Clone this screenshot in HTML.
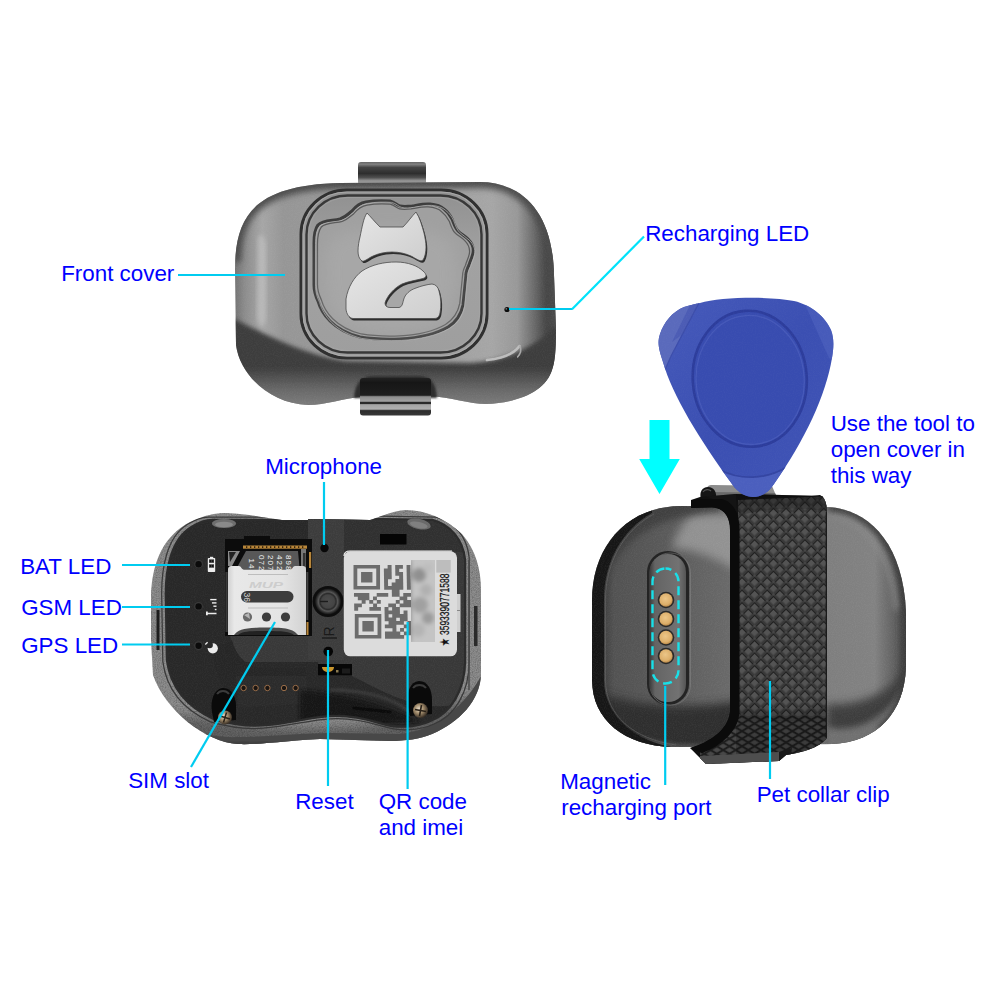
<!DOCTYPE html>
<html><head><meta charset="utf-8"><title>Pet tracker parts</title>
<style>
html,body{margin:0;padding:0;background:#fff;}
body{width:1000px;height:1000px;overflow:hidden;font-family:"Liberation Sans",sans-serif;}
svg{display:block;}
text{font-family:"Liberation Sans",sans-serif;}
.lb{font-size:22px;fill:#0000ff;}
.ln{stroke:#00ccf0;stroke-width:2.2;fill:none;}
</style></head><body>
<svg width="1000" height="1000" viewBox="0 0 1000 1000">
<rect width="1000" height="1000" fill="#fff"/>
<defs>
<filter id="b05" x="-10%" y="-10%" width="120%" height="120%"><feGaussianBlur stdDeviation="0.5"/></filter>
<filter id="b1" x="-10%" y="-10%" width="120%" height="120%"><feGaussianBlur stdDeviation="1"/></filter>
<filter id="b2" x="-20%" y="-20%" width="140%" height="140%"><feGaussianBlur stdDeviation="2"/></filter>
<filter id="b3" x="-20%" y="-20%" width="140%" height="140%"><feGaussianBlur stdDeviation="3"/></filter>
<filter id="b5" x="-30%" y="-30%" width="160%" height="160%"><feGaussianBlur stdDeviation="5"/></filter>
<filter id="b8" x="-40%" y="-40%" width="180%" height="180%"><feGaussianBlur stdDeviation="8"/></filter>
<filter id="b12" x="-50%" y="-50%" width="200%" height="200%"><feGaussianBlur stdDeviation="12"/></filter>
<filter id="grain" x="0" y="0" width="100%" height="100%">
  <feTurbulence type="fractalNoise" baseFrequency="0.9" numOctaves="2" seed="3" result="n"/>
  <feColorMatrix in="n" type="matrix" values="0 0 0 0 1  0 0 0 0 1  0 0 0 0 1  0.9 0 0 0 -0.32"/>
</filter>
<filter id="grainD" x="0" y="0" width="100%" height="100%">
  <feTurbulence type="fractalNoise" baseFrequency="0.8" numOctaves="2" seed="11" result="n"/>
  <feColorMatrix in="n" type="matrix" values="0 0 0 0 0  0 0 0 0 0  0 0 0 0 0  1.0 0 0 0 -0.38"/>
</filter>
</defs>
<g id="dev1">
<defs>
<clipPath id="c1"><path d="M340,183 L480,182 C520,182 553,210 554,275 L556,330 C556,350 555,362 552,370 C546,390 520,403 486,404 C470,404 450,397 430,396 L360,397 C345,398 325,405 308,405 C270,404 240,375 236,345 L235,270 C235,215 255,185 340,183 Z"/></clipPath>
<linearGradient id="g1face" x1="0" y1="0" x2="1" y2="0">
 <stop offset="0" stop-color="#747474"/><stop offset="0.03" stop-color="#8c8c8c"/><stop offset="0.085" stop-color="#a6a6a6"/><stop offset="0.15" stop-color="#969696"/>
 <stop offset="0.5" stop-color="#9a9a9a"/><stop offset="0.8" stop-color="#a6a6a6"/><stop offset="0.88" stop-color="#989898"/><stop offset="0.93" stop-color="#6c6c6c"/><stop offset="0.97" stop-color="#464646"/><stop offset="1" stop-color="#3c3c3c"/>
</linearGradient>
<linearGradient id="g1low" gradientUnits="userSpaceOnUse" x1="0" y1="330" x2="0" y2="406">
 <stop offset="0" stop-color="#3c3c3c"/><stop offset="0.5" stop-color="#3e3e3e"/><stop offset="0.78" stop-color="#686868"/><stop offset="1" stop-color="#7c7c7c"/>
</linearGradient>
<linearGradient id="g1clipT" x1="0" y1="0" x2="0" y2="1">
 <stop offset="0" stop-color="#666"/><stop offset="0.1" stop-color="#808080"/><stop offset="0.24" stop-color="#444"/><stop offset="0.5" stop-color="#2e2e2e"/><stop offset="0.68" stop-color="#505050"/><stop offset="0.8" stop-color="#8e8e8e"/><stop offset="0.9" stop-color="#9a9a9a"/><stop offset="1" stop-color="#4a4a4a"/>
</linearGradient>
<linearGradient id="g1clipB" x1="0" y1="0" x2="0" y2="1">
 <stop offset="0" stop-color="#222"/><stop offset="0.12" stop-color="#161616"/><stop offset="0.46" stop-color="#1e1e1e"/><stop offset="0.5" stop-color="#8e8e8e"/><stop offset="0.62" stop-color="#a0a0a0"/><stop offset="0.65" stop-color="#2a2a2a"/><stop offset="0.685" stop-color="#2a2a2a"/><stop offset="0.71" stop-color="#a4a4a4"/><stop offset="0.83" stop-color="#b0b0b0"/><stop offset="0.87" stop-color="#2c2c2c"/><stop offset="1" stop-color="#383838"/>
</linearGradient>
<linearGradient id="g1panel" x1="0" y1="0" x2="0" y2="1">
 <stop offset="0" stop-color="#909090"/><stop offset="0.4" stop-color="#a2a2a2"/><stop offset="1" stop-color="#9e9e9e"/>
</linearGradient>
<linearGradient id="g1logo" x1="0" y1="0" x2="1" y2="1">
 <stop offset="0" stop-color="#e6e6e6"/><stop offset="0.5" stop-color="#dadada"/><stop offset="1" stop-color="#cecece"/>
</linearGradient>
</defs>
<rect x="358" y="162" width="68" height="23" rx="3" fill="url(#g1clipT)"/>
<path d="M340,183 L480,182 C520,182 553,210 554,275 L556,330 C556,350 555,362 552,370 C546,390 520,403 486,404 C470,404 450,397 430,396 L360,397 C345,398 325,405 308,405 C270,404 240,375 236,345 L235,270 C235,215 255,185 340,183 Z" fill="url(#g1face)"/>
<g clip-path="url(#c1)">
 <!-- top darker rim -->
 <path d="M235,262 C235,215 255,185 340,183 L480,182 C520,182 553,210 554,275 L556,330" fill="none" stroke="#4c4c4c" stroke-width="12" filter="url(#b3)"/>
 <!-- lower front side (dark band) -->
 <path d="M232,318 C262,332 300,354 345,361 L470,363 C500,362 530,350 558,326 L560,420 L230,420 Z" fill="url(#g1low)" filter="url(#b2)"/>
 <!-- right side darkening -->
 
 <!-- left rim + highlight -->
 <path d="M258,238 C262,230 266,238 266,250 L266,318 C264,330 258,328 257,316 Z" fill="#b8b8b8" filter="url(#b2)"/>
 <path d="M246,240 L246,335" stroke="#666" stroke-width="6" filter="url(#b2)" fill="none"/>
 <!-- bottom right gloss -->
 <path d="M487,360 C502,358.500 514,353.500 519.500,346" stroke="#bdbdbd" stroke-width="2.600" stroke-linecap="round" fill="none" filter="url(#b05)"/><path d="M520,346 C521.500,350 520.500,354 517.500,357" stroke="#a8a8a8" stroke-width="1.600" stroke-linecap="round" fill="none" filter="url(#b05)"/>
 <rect x="230" y="160" width="330" height="260" filter="url(#grain)" opacity="0.10"/>
</g>
<path d="M354,398 C355,382 362,376 374,376 L418,376 C430,376 436,382 437,398 Z" fill="#2e2e2e" filter="url(#b1)"/>
<rect x="360" y="378" width="71" height="37.500" rx="3" fill="url(#g1clipB)"/>
<!-- inner raised panel -->
<rect x="301" y="190" width="186" height="168" rx="46" ry="44" fill="url(#g1panel)" stroke="#303030" stroke-width="3"/>
<rect x="303" y="192" width="182" height="164" rx="44" ry="42" fill="none" stroke="#b0b0b0" stroke-width="1.100" opacity="0.75"/>
<rect x="306.500" y="195.500" width="175" height="157" rx="41" ry="39" fill="none" stroke="#383838" stroke-width="2.400"/>
<rect x="308.500" y="197.500" width="171" height="153" rx="39" ry="37" fill="none" stroke="#a8a8a8" stroke-width="0.900" opacity="0.6"/>
<!-- paw outline -->
<path d="M314,285 L314,243 C314,234 315,229 318,225 C323,220 333,221 340,219 C346,217 348,214 352,211 C356,206 360,203 366,202 C374,200.500 383,200.500 390,201 C395,202 397,205.500 400,206 C404,207 408,206.500 412,206 C418,205 424,203.500 430,204 C436,204.500 441,206 444,209 C448,212 450,215 452,219 C454,224 455,228 458,231 C461,234 465,236 468,239 C472,243 474,248 473,253 C472,258 470,261 469,265 C467,269 466,272 466,275 L463,305 C461,315 456,322 448,327 C436,334 418,338 400,339 C386,339.500 372,339 360,337 C348,334 338,329 330,321 C324,315 320,308 318,301 C315,295 314,290 314,285 Z" fill="#a0a0a0" stroke="#3e3e3e" stroke-width="3"/>
<path d="M314,285 L314,243 C314,234 315,229 318,225 C323,220 333,221 340,219 C346,217 348,214 352,211 C356,206 360,203 366,202 C374,200.500 383,200.500 390,201 C395,202 397,205.500 400,206 C404,207 408,206.500 412,206 C418,205 424,203.500 430,204 C436,204.500 441,206 444,209 C448,212 450,215 452,219 C454,224 455,228 458,231 C461,234 465,236 468,239 C472,243 474,248 473,253 C472,258 470,261 469,265 C467,269 466,272 466,275 L463,305 C461,315 456,322 448,327 C436,334 418,338 400,339 C386,339.500 372,339 360,337 C348,334 338,329 330,321 C324,315 320,308 318,301 C315,295 314,290 314,285 Z" fill="none" stroke="#b8b8b8" stroke-width="1" opacity="0.7" transform="translate(1.6,1.4)"/>
<path d="M314,285 L314,243 C314,234 315,229 318,225 C323,220 333,221 340,219 C346,217 348,214 352,211 C356,206 360,203 366,202 C374,200.500 383,200.500 390,201 C395,202 397,205.500 400,206 C404,207 408,206.500 412,206 C418,205 424,203.500 430,204 C436,204.500 441,206 444,209 C448,212 450,215 452,219 C454,224 455,228 458,231 C461,234 465,236 468,239 C472,243 474,248 473,253 C472,258 470,261 469,265 C467,269 466,272 466,275 L463,305 C461,315 456,322 448,327 C436,334 418,338 400,339 C386,339.500 372,339 360,337 C348,334 338,329 330,321 C324,315 320,308 318,301 C315,295 314,290 314,285 Z" fill="none" stroke="#5a5a5a" stroke-width="1.300" transform="translate(391 270) scale(0.955) translate(-391 -270)"/>
<path d="M330,240 C350,225 420,222 450,240 C465,270 455,310 440,326 C400,336 360,334 335,318 C322,295 322,260 330,240 Z" fill="#aaaaaa" filter="url(#b8)" opacity="0.7"/>
<!-- cat logo -->
<g>
 <path d="M367,213 C370,216 375,222 380,227 L403,227 C408,222 412,216 416,212 C420,218 422,226 424,233 C425,238 426,242 426,247 C426,252 425,257 423,260 C421,262 418,260 412,256.500 C406,253.500 399,252 392,252 C385,252 378,253.500 372,256.500 C367,259 364,262 362,261 C359,259 358,255 358,251 C358,246 359,241 360,237 C361,232 362,227 363,223 C364,219 365,216 367,213 Z" fill="#2e2e2e" transform="translate(1.300,1.900)"/>
 <path d="M367,213 C370,216 375,222 380,227 L403,227 C408,222 412,216 416,212 C420,218 422,226 424,233 C425,238 426,242 426,247 C426,252 425,257 423,260 C421,262 418,260 412,256.500 C406,253.500 399,252 392,252 C385,252 378,253.500 372,256.500 C367,259 364,262 362,261 C359,259 358,255 358,251 C358,246 359,241 360,237 C361,232 362,227 363,223 C364,219 365,216 367,213 Z" fill="url(#g1logo)"/>
 <path d="M346,299 C348,287 354,277 362,271 C372,264.500 384,262 396,262 C408,262 418,266 423,271 C427,274.500 427,277 423,278.500 C415,280.500 408,281.500 402,284 C394,288 387,296 385,303 C385,306 387,307.500 390,307.500 L399,307.500 C402,307 402.500,304 403.500,300 C405,294 410,290 416,288 C421,286 427,284.500 432,284 C436,284.500 438,287 439,291 C441,298 441.500,306 440,313 C439,317 437.500,318.500 434,318.500 L353,318.500 C349,318 346.500,314 346,309 Z" fill="#2e2e2e" transform="translate(1.300,1.900)"/>
 <path d="M346,299 C348,287 354,277 362,271 C372,264.500 384,262 396,262 C408,262 418,266 423,271 C427,274.500 427,277 423,278.500 C415,280.500 408,281.500 402,284 C394,288 387,296 385,303 C385,306 387,307.500 390,307.500 L399,307.500 C402,307 402.500,304 403.500,300 C405,294 410,290 416,288 C421,286 427,284.500 432,284 C436,284.500 438,287 439,291 C441,298 441.500,306 440,313 C439,317 437.500,318.500 434,318.500 L353,318.500 C349,318 346.500,314 346,309 Z" fill="url(#g1logo)"/>
 <path d="M367,213 C370,216 375,222 380,227 L403,227 C408,222 412,216 416,212 C420,218 422,226 424,233 C425,238 426,242 426,247 C426,252 425,257 423,260 C421,262 418,260 412,256.500 C406,253.500 399,252 392,252 C385,252 378,253.500 372,256.500 C367,259 364,262 362,261 C359,259 358,255 358,251 C358,246 359,241 360,237 C361,232 362,227 363,223 C364,219 365,216 367,213 Z" fill="none" stroke="#4a4a4a" stroke-width="0.800"/>
 <path d="M346,299 C348,287 354,277 362,271 C372,264.500 384,262 396,262 C408,262 418,266 423,271 C427,274.500 427,277 423,278.500 C415,280.500 408,281.500 402,284 C394,288 387,296 385,303 C385,306 387,307.500 390,307.500 L399,307.500 C402,307 402.500,304 403.500,300 C405,294 410,290 416,288 C421,286 427,284.500 432,284 C436,284.500 438,287 439,291 C441,298 441.500,306 440,313 C439,317 437.500,318.500 434,318.500 L353,318.500 C349,318 346.500,314 346,309 Z" fill="none" stroke="#4a4a4a" stroke-width="0.800"/>
</g>
<circle cx="507" cy="309.500" r="2.600" fill="#0c0c0c"/>
<circle cx="506.300" cy="308.800" r="0.9" fill="#777"/>
</g>
<g id="dev2">
<defs>
<clipPath id="c2o"><path d="M226,513 C250,514 265,518 282,520 L370,520 C380,517 392,511 406,510 C425,510 445,518 462,534 C476,550 481,570 481,590 L481,675 C480,700 460,722 432,734 C420,739 405,741 390,741 L320,739 C290,740 260,745 238,744 C205,742 165,710 153,675 L151,640 L151,595 C152,560 165,535 190,522 C205,515 215,513 226,513 Z"/></clipPath>
<clipPath id="c2i"><path d="M212,521 L308,521 L308,519 L432,521 C450,526 462,540 464,560 L464,660 C464,690 450,712 430,720 C415,727 395,727 380,722 C360,716 345,714 330,715 C310,716 290,722 265,724 C245,726 228,722 214,718 C192,708 172,690 168,660 L167,600 C166,570 172,540 192,528 C200,523 206,521 212,521 Z"/></clipPath>
<linearGradient id="g2sim" x1="0" y1="0" x2="1" y2="0">
 <stop offset="0" stop-color="#d0d0d0"/><stop offset="0.08" stop-color="#e8e8e8"/><stop offset="0.7" stop-color="#e4e4e4"/><stop offset="1" stop-color="#d2d2d2"/>
</linearGradient>
<radialGradient id="g2btn" cx="0.5" cy="0.5" r="0.5">
 <stop offset="0" stop-color="#4c4c4c"/><stop offset="0.5" stop-color="#444"/><stop offset="0.62" stop-color="#2a2a2a"/><stop offset="0.74" stop-color="#565656"/><stop offset="0.9" stop-color="#2a2a2a"/><stop offset="1" stop-color="#141414"/>
</radialGradient>
<radialGradient id="g2screw" cx="0.4" cy="0.4" r="0.6">
 <stop offset="0" stop-color="#e8dcc8"/><stop offset="0.5" stop-color="#a08a6a"/><stop offset="1" stop-color="#3a3026"/>
</radialGradient>
</defs>
<path d="M226,513 C250,514 265,518 282,520 L370,520 C380,517 392,511 406,510 C425,510 445,518 462,534 C476,550 481,570 481,590 L481,675 C480,700 460,722 432,734 C420,739 405,741 390,741 L320,739 C290,740 260,745 238,744 C205,742 165,710 153,675 L151,640 L151,595 C152,560 165,535 190,522 C205,515 215,513 226,513 Z" fill="#888"/>
<g clip-path="url(#c2o)">
<rect x="145" y="505" width="345" height="245" filter="url(#grainD)" opacity="0.45"/>
<rect x="145" y="505" width="345" height="245" filter="url(#grain)" opacity="0.25"/>
<path d="M145,712 C200,716 260,730 316,728 C380,728 430,716 490,690 L490,750 L145,750 Z" fill="#000" opacity="0.3" filter="url(#b5)"/>
<path d="M150,690 C175,735 215,738 240,737 C270,737 300,733 330,733 L400,734 C440,730 470,700 484,670 L490,760 L140,760 Z" fill="#484848"/>
<path d="M200,744 L420,742" stroke="#3c3c3c" stroke-width="3" filter="url(#b1)"/>
<path d="M212,521 L308,521 L308,519 L432,521 C450,526 462,540 464,560 L464,660 C464,690 450,712 430,720 C415,727 395,727 380,722 C360,716 345,714 330,715 C310,716 290,722 265,724 C245,726 228,722 214,718 C192,708 172,690 168,660 L167,600 C166,570 172,540 192,528 C200,523 206,521 212,521 Z" fill="none" stroke="#2c2c2c" stroke-width="4.500"/>
<path d="M212,521 L308,521 L308,519 L432,521 C450,526 462,540 464,560 L464,660 C464,690 450,712 430,720 C415,727 395,727 380,722 C360,716 345,714 330,715 C310,716 290,722 265,724 C245,726 228,722 214,718 C192,708 172,690 168,660 L167,600 C166,570 172,540 192,528 C200,523 206,521 212,521 Z" fill="none" stroke="#3a3a3a" stroke-width="1.2" transform="translate(316 620) scale(1.035,1.04) translate(-316 -620)"/>
</g>
<path d="M212,521 L308,521 L308,519 L432,521 C450,526 462,540 464,560 L464,660 C464,690 450,712 430,720 C415,727 395,727 380,722 C360,716 345,714 330,715 C310,716 290,722 265,724 C245,726 228,722 214,718 C192,708 172,690 168,660 L167,600 C166,570 172,540 192,528 C200,523 206,521 212,521 Z" fill="#282828"/>
<g clip-path="url(#c2i)">
<path d="M308,519 L470,519 L470,700 C440,715 400,700 380,690 L352,676 L318,676 L318,662 L244,662 C235,655 232,645 230,636 L308,636 Z" fill="#383838"/>
<path d="M308,519 L344,519 L344,660 L308,660 Z" fill="#3c3c3c"/>
<path d="M344,519 L470,519 L470,552 L344,552 Z" fill="#303030"/>
<path d="M232,640 C236,655 244,664 258,668 L306,668 L306,700 L236,700 C222,690 214,670 214,650 Z" fill="#262626"/>
<path d="M236,676 L306,676 L308,700 L300,704 L238,708 Z" fill="#2b2b2b"/>
<path d="M300,690 C340,694 380,700 420,722 L300,726 Z" fill="#141414" filter="url(#b2)"/>
<path d="M330,690 C370,690 395,700 410,712" stroke="#3a3a3a" stroke-width="3" fill="none" filter="url(#b1)"/>
<path d="M354,708 L390,712" stroke="#0a0a0a" stroke-width="3" stroke-linecap="round" fill="none"/>
<rect x="160" y="515" width="310" height="215" filter="url(#grain)" opacity="0.10"/>
</g>
<ellipse cx="224" cy="523.500" rx="12" ry="4.500" fill="#6e6e6e"/><ellipse cx="224" cy="524.500" rx="9" ry="2.800" fill="#8a8a8a"/>
<ellipse cx="419" cy="524" rx="12" ry="5" fill="#6a6a6a" transform="rotate(12 419 524)"/><ellipse cx="419" cy="525" rx="9" ry="3" fill="#808080" transform="rotate(12 419 524)"/>
<rect x="380" y="534" width="26.500" height="10.500" fill="#050505"/>
<path d="M225,539 L244,539 L244,536 L270,536 L270,539 L312,539 L312,636 L225,636 Z" fill="#0c0c0c"/>
<rect x="243" y="545.500" width="64" height="3.200" fill="#b8863a"/>
<rect x="246" y="546.300" width="1.300" height="1.600" fill="#2a1a08"/>
<rect x="250" y="546.300" width="1.300" height="1.600" fill="#2a1a08"/>
<rect x="254" y="546.300" width="1.300" height="1.600" fill="#2a1a08"/>
<rect x="258" y="546.300" width="1.300" height="1.600" fill="#2a1a08"/>
<rect x="262" y="546.300" width="1.300" height="1.600" fill="#2a1a08"/>
<rect x="266" y="546.300" width="1.300" height="1.600" fill="#2a1a08"/>
<rect x="270" y="546.300" width="1.300" height="1.600" fill="#2a1a08"/>
<rect x="274" y="546.300" width="1.300" height="1.600" fill="#2a1a08"/>
<rect x="278" y="546.300" width="1.300" height="1.600" fill="#2a1a08"/>
<rect x="282" y="546.300" width="1.300" height="1.600" fill="#2a1a08"/>
<rect x="286" y="546.300" width="1.300" height="1.600" fill="#2a1a08"/>
<rect x="290" y="546.300" width="1.300" height="1.600" fill="#2a1a08"/>
<rect x="294" y="546.300" width="1.300" height="1.600" fill="#2a1a08"/>
<rect x="298" y="546.300" width="1.300" height="1.600" fill="#2a1a08"/>
<rect x="302" y="546.300" width="1.300" height="1.600" fill="#2a1a08"/>
<rect x="309" y="552" width="2.200" height="16" fill="#b8863a"/><rect x="306.500" y="622" width="2" height="13" fill="#b8863a"/>
<path d="M234,573 L246,551 L298,551 L300,573 Z" fill="#585858"/>
<path d="M228,551 L240,551 L232,566 L228,566 Z" fill="#8a8a8a"/><path d="M229,552 L236,552 L230,562 Z" fill="#222"/>
<rect x="301" y="549" width="5" height="22" fill="#777"/><rect x="303" y="553" width="2.500" height="14" fill="#333"/>
<g font-size="8" fill="#f4f4f4" font-family="Liberation Sans,sans-serif" letter-spacing="1">
<text transform="translate(285.500,555) rotate(90)">898</text><text transform="translate(276.500,555) rotate(90)">422</text><text transform="translate(267.500,555) rotate(90)">207</text><text transform="translate(259,555) rotate(90)">072</text><text transform="translate(248.500,558.500) rotate(90)">14</text></g>
<path d="M228,570 C228,567 229,566 232,566 L239,566 C241,566 241.500,569.500 244,569.700 L290,569.700 C292.500,569.500 293,566 295,566 L303,566 C305,566 306,567 306,570 L306,635 L228,635 Z" fill="url(#g2sim)"/>
<path d="M248,574.500 L288,574.500" stroke="#bdbdbd" stroke-width="1"/><path d="M248,608 L288,608" stroke="#bdbdbd" stroke-width="1"/>
<text x="249" y="587.500" font-size="9" font-style="italic" font-weight="bold" fill="#cdcdcd" font-family="Liberation Sans,sans-serif" textLength="34" lengthAdjust="spacingAndGlyphs">MUP</text>
<rect x="241" y="591" width="52.500" height="11.500" rx="5.700" fill="#3c3c3c"/>
<text transform="translate(244,592.500) rotate(90)" font-size="8.500" fill="#d8d8d8" font-family="Liberation Sans,sans-serif">36</text>
<circle cx="247.500" cy="617" r="4.600" fill="#6a6a6a"/><path d="M244,615 L249,613 L250,619 Z" fill="#b5b5b5"/><circle cx="266.500" cy="617" r="4.600" fill="#3e3e3e"/><circle cx="285.500" cy="617" r="4.600" fill="#3e3e3e"/>
<path d="M234,635 C238,629 246,627.500 266,627.500 C286,627.500 293,629 298,635 Z" fill="#4a4a4a"/><path d="M238,635 C242,631.500 250,631 266,631 C282,631 290,631.500 294,635 Z" fill="#222"/>
<rect x="225.500" y="572" width="2.200" height="60" fill="#3a3a3a"/><rect x="306.300" y="572" width="2" height="48" fill="#444"/>
<circle cx="198.500" cy="564" r="4.300" fill="#3a3a3a"/><circle cx="198.600" cy="564.2" r="3.200" fill="#0b0b0b"/>
<circle cx="198.500" cy="606.2" r="4.300" fill="#3a3a3a"/><circle cx="198.600" cy="606.4000000000001" r="3.200" fill="#0b0b0b"/>
<circle cx="198.500" cy="645.6" r="4.300" fill="#3a3a3a"/><circle cx="198.600" cy="645.8000000000001" r="3.200" fill="#0b0b0b"/>
<g fill="#ececec">
<rect x="210" y="556.800" width="3.200" height="1.500"/><rect x="207.800" y="558" width="7.400" height="14" rx="0.700"/><rect x="209" y="559.300" width="5" height="3.600" fill="#4a4a4a"/><rect x="209" y="564.200" width="5" height="3.600" fill="#4a4a4a"/><rect x="209.700" y="560.100" width="1.500" height="2" fill="#111"/><rect x="211.900" y="560.100" width="1.500" height="2" fill="#111"/><rect x="209.700" y="565" width="1.500" height="2" fill="#111"/><rect x="211.900" y="565" width="1.500" height="2" fill="#111"/>
<path d="M206,611.600 L207.800,611.600 L207.800,612.700 L216.500,612.700 L216.500,614.200 L207.800,614.200 L207.800,615.300 L206,615.300 Z"/>
<rect x="210.200" y="598.900" width="6.300" height="1.400"/><rect x="212" y="602.200" width="4.500" height="1.400"/><rect x="213.400" y="605.500" width="3.100" height="1.400"/><rect x="214.800" y="608.800" width="1.700" height="1.400"/>
<circle cx="212.800" cy="648.300" r="5.100"/><circle cx="209.600" cy="645" r="3.300" fill="#282828"/><path d="M205.300,644.500 L207.600,642.300" stroke="#ececec" stroke-width="1.300" fill="none"/>
</g>
<circle cx="324.500" cy="548" r="4.200" fill="#080808"/>
<circle cx="328" cy="601.500" r="15.500" fill="#0d0d0d"/><circle cx="328" cy="601.500" r="13" fill="url(#g2btn)"/>
<path d="M328,601.500 L320,601.500" stroke="#1c1c1c" stroke-width="1.400"/>
<text transform="translate(334,636.500) rotate(-90)" font-size="14" fill="#1a1a1a" font-family="Liberation Sans,sans-serif">R</text>
<path d="M322,638 L337,638" stroke="#151515" stroke-width="1.200"/>
<circle cx="328.200" cy="651.500" r="4.800" fill="#050505"/>
<rect x="318" y="664" width="34" height="11.500" fill="#070707"/><path d="M322,667 L334,667 C334,671 330,672 328,672 C325,672 322,670 322,667 Z" fill="#c9962e"/><rect x="336" y="670" width="2.500" height="2.500" fill="#8a7a50"/><rect x="342" y="668.500" width="8" height="5" fill="#1c1c1c"/>
<circle cx="243.6" cy="688" r="2.700" fill="#1a1512" stroke="#9a6e4a" stroke-width="1"/>
<circle cx="255.6" cy="688" r="2.700" fill="#1a1512" stroke="#9a6e4a" stroke-width="1"/>
<circle cx="267.4" cy="688" r="2.700" fill="#1a1512" stroke="#9a6e4a" stroke-width="1"/>
<circle cx="284" cy="688" r="2.700" fill="#1a1512" stroke="#9a6e4a" stroke-width="1"/>
<circle cx="295.6" cy="688" r="2.700" fill="#1a1512" stroke="#9a6e4a" stroke-width="1"/>
<path d="M212,712 C210,700 214,690 222,688 C231,687 236,696 236,706 L236,720 L214,722 Z" fill="#0a0a0a"/><path d="M217,694 C220,690 226,690 229,694" stroke="#3a3a3a" stroke-width="2" fill="none" filter="url(#b05)"/>
<circle cx="225" cy="717.500" r="7" fill="url(#g2screw)"/><path d="M220,716 L230,719 M226.500,712.500 L223.500,722.500" stroke="#2a2218" stroke-width="1.500"/>
<path d="M408,706 C406,692 410,682 419,681 C428,681 432,690 432,700 L432,714 L410,716 Z" fill="#0a0a0a"/><path d="M413,688 C416,684 423,684 426,688" stroke="#3a3a3a" stroke-width="2" fill="none" filter="url(#b05)"/>
<circle cx="420.500" cy="710.500" r="7.500" fill="url(#g2screw)"/><path d="M415,709.500 L426,711.500 M421.500,705 L419.500,716" stroke="#2a2218" stroke-width="1.600"/>
<rect x="455" y="594" width="5.500" height="38" fill="#cfcfcf"/><rect x="455" y="610" width="5.500" height="1" fill="#888"/>
<path d="M469,560 L469,690" stroke="#4a4a4a" stroke-width="1.500" fill="none"/><rect x="474" y="606" width="3.500" height="40" fill="#2a2a2a"/>
<rect x="156.500" y="610" width="3" height="40" fill="#1e1e1e"/>
<rect x="343.800" y="551.300" width="113.200" height="105" rx="6.500" fill="#dcdcdc"/>
<path d="M344,556 C344,553 346,551 350,551 L452,551" stroke="#f2f2f2" stroke-width="1.200" fill="none"/>
<rect x="353.50" y="565.00" width="26.53" height="24.50" fill="#6c6c6c"/><rect x="357.29" y="568.50" width="18.95" height="17.50" fill="#dcdcdc"/><rect x="361.08" y="572.00" width="11.37" height="10.50" fill="#6c6c6c"/>
<g transform="translate(1.3,0)"><rect x="353.50" y="614.00" width="26.53" height="24.50" fill="#6c6c6c"/><rect x="357.29" y="617.50" width="18.95" height="17.50" fill="#dcdcdc"/><rect x="361.08" y="621.00" width="11.37" height="10.50" fill="#6c6c6c"/></g>
<path d="M353.98,593.00h3.94v3.65h-3.94zM357.77,593.00h3.94v3.65h-3.94zM361.56,593.00h3.94v3.65h-3.94zM365.35,593.00h3.94v3.65h-3.94zM376.72,593.00h3.94v3.65h-3.94zM380.51,593.00h3.94v3.65h-3.94zM357.83,596.50h3.94v3.65h-3.94zM361.62,596.50h3.94v3.65h-3.94zM365.41,596.50h3.94v3.65h-3.94zM372.99,596.50h3.94v3.65h-3.94zM361.68,600.00h3.94v3.65h-3.94zM369.26,600.00h3.94v3.65h-3.94zM376.84,600.00h3.94v3.65h-3.94zM354.16,603.50h3.94v3.65h-3.94zM357.95,603.50h3.94v3.65h-3.94zM373.11,603.50h3.94v3.65h-3.94zM354.22,607.00h3.94v3.65h-3.94zM369.38,607.00h3.94v3.65h-3.94zM373.17,607.00h3.94v3.65h-3.94zM376.96,607.00h3.94v3.65h-3.94zM387.61,565.00h3.94v3.65h-3.94zM395.19,565.00h3.94v3.65h-3.94zM398.98,565.00h3.94v3.65h-3.94zM406.56,565.00h3.94v3.65h-3.94zM383.88,568.50h3.94v3.65h-3.94zM387.67,568.50h3.94v3.65h-3.94zM395.25,568.50h3.94v3.65h-3.94zM406.62,568.50h3.94v3.65h-3.94zM383.94,572.00h3.94v3.65h-3.94zM387.73,572.00h3.94v3.65h-3.94zM395.31,572.00h3.94v3.65h-3.94zM399.10,572.00h3.94v3.65h-3.94zM406.68,572.00h3.94v3.65h-3.94zM384.00,575.50h3.94v3.65h-3.94zM387.79,575.50h3.94v3.65h-3.94zM399.16,575.50h3.94v3.65h-3.94zM406.74,575.50h3.94v3.65h-3.94zM384.06,579.00h3.94v3.65h-3.94zM395.43,579.00h3.94v3.65h-3.94zM399.22,579.00h3.94v3.65h-3.94zM406.80,579.00h3.94v3.65h-3.94zM384.12,582.50h3.94v3.65h-3.94zM391.70,582.50h3.94v3.65h-3.94zM395.49,582.50h3.94v3.65h-3.94zM399.28,582.50h3.94v3.65h-3.94zM406.86,582.50h3.94v3.65h-3.94zM384.18,586.00h3.94v3.65h-3.94zM387.97,586.00h3.94v3.65h-3.94zM391.76,586.00h3.94v3.65h-3.94zM395.55,586.00h3.94v3.65h-3.94zM399.34,586.00h3.94v3.65h-3.94zM406.92,586.00h3.94v3.65h-3.94zM391.82,589.50h3.94v3.65h-3.94zM395.61,589.50h3.94v3.65h-3.94zM384.30,593.00h3.94v3.65h-3.94zM391.88,593.00h3.94v3.65h-3.94zM395.67,593.00h3.94v3.65h-3.94zM403.25,593.00h3.94v3.65h-3.94zM407.04,593.00h3.94v3.65h-3.94zM399.52,596.50h3.94v3.65h-3.94zM403.31,596.50h3.94v3.65h-3.94zM395.79,600.00h3.94v3.65h-3.94zM403.37,600.00h3.94v3.65h-3.94zM407.16,600.00h3.94v3.65h-3.94zM388.27,603.50h3.94v3.65h-3.94zM392.06,603.50h3.94v3.65h-3.94zM399.64,603.50h3.94v3.65h-3.94zM403.43,603.50h3.94v3.65h-3.94zM407.22,603.50h3.94v3.65h-3.94zM384.54,607.00h3.94v3.65h-3.94zM392.12,607.00h3.94v3.65h-3.94zM395.91,607.00h3.94v3.65h-3.94zM384.60,610.50h3.94v3.65h-3.94zM388.39,610.50h3.94v3.65h-3.94zM392.18,610.50h3.94v3.65h-3.94zM395.97,610.50h3.94v3.65h-3.94zM403.55,610.50h3.94v3.65h-3.94zM384.66,614.00h3.94v3.65h-3.94zM392.24,614.00h3.94v3.65h-3.94zM396.03,614.00h3.94v3.65h-3.94zM399.82,614.00h3.94v3.65h-3.94zM403.61,614.00h3.94v3.65h-3.94zM384.72,617.50h3.94v3.65h-3.94zM388.51,617.50h3.94v3.65h-3.94zM392.30,617.50h3.94v3.65h-3.94zM399.88,617.50h3.94v3.65h-3.94zM403.67,617.50h3.94v3.65h-3.94zM388.57,621.00h3.94v3.65h-3.94zM392.36,621.00h3.94v3.65h-3.94zM396.15,621.00h3.94v3.65h-3.94zM399.94,621.00h3.94v3.65h-3.94zM407.52,621.00h3.94v3.65h-3.94zM384.84,624.50h3.94v3.65h-3.94zM388.63,624.50h3.94v3.65h-3.94zM392.42,624.50h3.94v3.65h-3.94zM403.79,624.50h3.94v3.65h-3.94zM407.58,624.50h3.94v3.65h-3.94zM392.48,628.00h3.94v3.65h-3.94zM400.06,628.00h3.94v3.65h-3.94zM407.64,628.00h3.94v3.65h-3.94zM384.96,631.50h3.94v3.65h-3.94zM388.75,631.50h3.94v3.65h-3.94zM392.54,631.50h3.94v3.65h-3.94zM396.33,631.50h3.94v3.65h-3.94zM403.91,631.50h3.94v3.65h-3.94zM407.70,631.50h3.94v3.65h-3.94zM385.02,635.00h3.94v3.65h-3.94zM388.81,635.00h3.94v3.65h-3.94zM392.60,635.00h3.94v3.65h-3.94zM396.39,635.00h3.94v3.65h-3.94zM400.18,635.00h3.94v3.65h-3.94z" fill="#6c6c6c"/>
<rect x="436.300" y="560" width="14.400" height="12.600" fill="#bdbdbd" filter="url(#b05)"/>
<clipPath id="c2blur"><rect x="411" y="560" width="24" height="82"/></clipPath><g clip-path="url(#c2blur)"><rect x="411" y="560" width="24" height="82" fill="#c4c4c4"/><g filter="url(#b2)"><rect x="405" y="560" width="6" height="82" fill="#8a8a8a"/>
<circle cx="419" cy="575" r="7" fill="#909090"/>
<circle cx="426" cy="590" r="6" fill="#b0b0b0"/>
<circle cx="420" cy="605" r="8" fill="#a0a0a0"/>
<circle cx="428" cy="618" r="6" fill="#9a9a9a"/>
<circle cx="418" cy="630" r="7" fill="#b4b4b4"/>
<circle cx="428" cy="568" r="5" fill="#bdbdbd"/>
</g></g>
<text transform="translate(449.300,645.600) rotate(-90)" font-size="12.500" fill="#111" stroke="#111" stroke-width="0.250" font-family="Liberation Sans,sans-serif" textLength="72" lengthAdjust="spacingAndGlyphs">★ 359339077​1588</text>
</g>
<g id="dev3">
<defs>
<clipPath id="c3"><path d="M680,506 L826,507 C866,508 903,540 906,612 L906,668 C904,712 878,742 832,744 L672,747 C625,746 592,720 592,680 L592,600 C592,548 625,507 680,506 Z"/></clipPath>
<clipPath id="c3s"><path d="M700,497 L735,494 L822,496 C826,500 827,506 827,514 L827,738 C820,746 810,751 786,755 L779,761 L706,764 C700,758 694,752 690,748 C710,742 728,730 730,712 L730,530 C730,517 724,508 712,507.500 L691,508 L691,500 Z"/></clipPath>
<linearGradient id="g3body" x1="0" y1="0" x2="1" y2="0">
 <stop offset="0" stop-color="#2e2e2e"/><stop offset="0.03" stop-color="#3c3c3c"/><stop offset="0.07" stop-color="#525252"/><stop offset="0.2" stop-color="#585858"/>
 <stop offset="0.42" stop-color="#686868"/><stop offset="0.75" stop-color="#7e7e7e"/><stop offset="0.9" stop-color="#828282"/><stop offset="0.97" stop-color="#5c5c5c"/><stop offset="1" stop-color="#464646"/>
</linearGradient>
<linearGradient id="g3port" x1="0" y1="0" x2="1" y2="0">
 <stop offset="0" stop-color="#3a3a3a"/><stop offset="0.15" stop-color="#646464"/><stop offset="0.8" stop-color="#727272"/><stop offset="1" stop-color="#555"/>
</linearGradient>
<radialGradient id="g3pin" cx="0.45" cy="0.4" r="0.6">
 <stop offset="0" stop-color="#ecc688"/><stop offset="0.75" stop-color="#dcae6a"/><stop offset="1" stop-color="#b88848"/>
</radialGradient>
<pattern id="diam" width="8.900" height="8.900" patternUnits="userSpaceOnUse" patternTransform="translate(742,500) rotate(45)">
 <rect width="8.900" height="8.900" fill="#5c5c5c"/>
 <rect x="0.400" y="0.400" width="8.100" height="8.100" fill="#202020"/>
 <rect x="2" y="2" width="5.300" height="5.300" fill="#545454"/>
 <path d="M2,7.300 L7.300,7.300 L7.300,2" stroke="#484848" stroke-width="1" fill="none"/>
</pattern>
<pattern id="diam2" width="8.900" height="8.900" patternUnits="userSpaceOnUse" patternTransform="translate(742,716) scale(1,0.6) rotate(45)">
 <rect width="8.900" height="8.900" fill="#1e1e1e"/>
 <rect x="1.500" y="1.500" width="6" height="6" fill="#484848"/>
</pattern>
<linearGradient id="g3strapShade" x1="0" y1="0" x2="0" y2="1">
 <stop offset="0" stop-color="#000" stop-opacity="0.3"/><stop offset="0.07" stop-color="#000" stop-opacity="0.0"/><stop offset="0.78" stop-color="#000" stop-opacity="0.0"/><stop offset="0.86" stop-color="#000" stop-opacity="0.15"/><stop offset="1" stop-color="#000" stop-opacity="0.2"/>
</linearGradient>
</defs>
<path d="M706,490 C707,486 709,485 712,485 L772,486 L778,500 L706,500 Z" fill="#8c8c8c"/><path d="M712,492 L775,493 L778,500 L712,500 Z" fill="#6a6a6a"/>
<path d="M701,499 C699,492 702,487 708,487 C714,487 717,492 716,499 Z" fill="#151515"/><path d="M703,492 C705,489 709,489 711,491" stroke="#555" stroke-width="1.200" fill="none"/>
<path d="M778,500 L820,495 L823,497 L824,510 L782,506 Z" fill="#141414"/>
<path d="M680,506 L826,507 C866,508 903,540 906,612 L906,668 C904,712 878,742 832,744 L672,747 C625,746 592,720 592,680 L592,600 C592,548 625,507 680,506 Z" fill="url(#g3body)"/>
<g clip-path="url(#c3)">
<path d="M690,516 C710,512 735,514 745,516 L745,575 C720,560 700,550 672,548 C676,535 682,524 690,516 Z" fill="#9a9a9a" opacity="0.85" filter="url(#b5)"/>
<path d="M600,610 C602,570 625,538 660,524 C680,516 700,512 720,511 L720,500 L590,500 L590,610 Z" fill="#3c3c3c" opacity="0.85" filter="url(#b3)"/>
<path d="M588,688 C620,703 680,712 742,700 L742,760 L588,760 Z" fill="#2e2e2e" filter="url(#b5)"/>
<path d="M600,720 C630,742 680,748 742,742 L742,760 L590,760 Z" fill="#5a5a5a" filter="url(#b2)" opacity="0.8"/>
<path d="M826,704 C860,706 890,694 910,664 L910,760 L826,760 Z" fill="#3c3c3c" filter="url(#b5)"/>
<path d="M826,727 C860,734 888,716 904,686 L912,760 L826,760 Z" fill="#7a7a7a" filter="url(#b3)" opacity="0.85"/>
<path d="M652,509 C612,524 592,560 592,600 L592,680 C592,722 625,746 676,748 C634,741 604,716 604,680 L604,600 C604,562 622,530 652,513 Z" fill="#161616" filter="url(#b05)"/>
<path d="M676,745 C634,739 605.500,716 605.500,680 L605.500,600 C605.500,562 624,530 654,514" stroke="#6a6a6a" stroke-width="1" fill="none" opacity="0.55"/>
<path d="M828,514 C862,516 893,548 897,610" stroke="#909090" stroke-width="6" fill="none" filter="url(#b3)" opacity="0.7"/>
<path d="M828,507 C866,508 903,540 906,612 L906,668 C904,700 895,720 880,730" stroke="#3a3a3a" stroke-width="9" fill="none" filter="url(#b3)"/>
<rect x="588" y="500" width="322" height="250" filter="url(#grain)" opacity="0.12"/>
</g>
<rect x="647" y="551" width="42" height="154" rx="21" fill="#242424"/><rect x="650" y="553" width="40.500" height="152" rx="20" fill="none" stroke="#8a8a8a" stroke-width="1" opacity="0.5"/>
<rect x="649.500" y="554" width="36.500" height="148" rx="18" fill="url(#g3port)"/>
<rect x="652.500" y="568.500" width="26" height="115" rx="13" fill="none" stroke="#19e0e8" stroke-width="2.400" stroke-dasharray="9 5" stroke-dashoffset="3"/>
<circle cx="666" cy="600" r="8.300" fill="#2a2a2a"/><circle cx="666" cy="600" r="6.700" fill="url(#g3pin)"/>
<circle cx="666" cy="619" r="8.300" fill="#2a2a2a"/><circle cx="666" cy="619" r="6.700" fill="url(#g3pin)"/>
<circle cx="666" cy="637.5" r="8.300" fill="#2a2a2a"/><circle cx="666" cy="637.5" r="6.700" fill="url(#g3pin)"/>
<circle cx="666" cy="656" r="8.300" fill="#2a2a2a"/><circle cx="666" cy="656" r="6.700" fill="url(#g3pin)"/>
<path d="M700,497 L735,494 L822,496 C826,500 827,506 827,514 L827,738 C820,746 810,751 786,755 L779,761 L706,764 C700,758 694,752 690,748 C710,742 728,730 730,712 L730,530 C730,517 724,508 712,507.500 L691,508 L691,500 Z" fill="#101010"/>
<g clip-path="url(#c3s)">
<path d="M738,500 L830,496 L830,716 L738,716 Z" fill="url(#diam)"/>
<path d="M738,716 L830,716 L830,760 L700,770 L700,745 C725,740 738,730 738,716 Z" fill="url(#diam2)"/>
<path d="M700,494 L830,490 L830,512 C800,506 770,508 740,515 L728,505 Z" fill="#1e1e1e" opacity="0.3"/>
<rect x="736" y="494" width="94" height="270" fill="url(#g3strapShade)"/>
<path d="M738,712 C780,722 810,718 830,708" stroke="#000" stroke-width="8" opacity="0.25" fill="none" filter="url(#b5)"/>
<path d="M826.500,512 L826.500,738" stroke="#1a1a1a" stroke-width="1.500"/>
<path d="M700,756 L779,752 L779,766 L700,768 Z" fill="#4e4e4e"/>
<path d="M779,752 L792,748 L790,760 L779,762 Z" fill="#1a1a1a"/>
<path d="M691,500.500 L700,499 L721,499 C733,501 739.500,513 739.500,530 L739.500,712 C738.500,730 722,746 702,753 L690,748 C710,742 726,730 728,712 L730,530 C730,517 724,508 712,507.500 L691,508 Z" fill="#0b0b0b"/>
<path d="M735.500,540 L735.500,700" stroke="#303030" stroke-width="1.200" filter="url(#b05)"/>
</g>
</g>
<g id="pick">
<defs><clipPath id="cp"><path d="M700,303 C720,297 770,296 794,301 C812,305 826,318 831,330 C834,338 834,346 832,358 C826,395 805,440 774,484 C768,493 761,497 753.600,497 C746,497 738,493 732,484 C700,440 672,395 663,362 C659,350 657,343 660,334 C664,322 672,312 684,307 C690,305 695,304 700,303 Z"/></clipPath>
<linearGradient id="gpick" x1="0" y1="0" x2="1" y2="1"><stop offset="0" stop-color="#465abb"/><stop offset="0.5" stop-color="#3b4fb2"/><stop offset="1" stop-color="#4155b7"/></linearGradient>
</defs>
<path d="M700,303 C720,297 770,296 794,301 C812,305 826,318 831,330 C834,338 834,346 832,358 C826,395 805,440 774,484 C768,493 761,497 753.600,497 C746,497 738,493 732,484 C700,440 672,395 663,362 C659,350 657,343 660,334 C664,322 672,312 684,307 C690,305 695,304 700,303 Z" fill="url(#gpick)"/>
<g clip-path="url(#cp)">
<path d="M650,300 L699,300 L671,356 L664,372 L650,372 Z" fill="#5a6abc"/>
<path d="M690,305 L699,303 L684,333 L672,342 Z" fill="#4a5bb4" opacity="0.9"/>
<path d="M699,303 L671,356 L664,372" stroke="#3a4aa8" stroke-width="1.200" fill="none" opacity="0.8"/>
<path d="M803,300 L840,300 L840,365 L829,358 Z" fill="#4c60bd" opacity="0.7"/>
<path d="M720,470 C740,480 765,480 787,467 L792,500 L718,500 Z" fill="#4b5fbe"/>
<path d="M720,470 C740,480 765,480 787,467" stroke="#3445a2" stroke-width="1.800" fill="none"/>
<ellipse cx="749.700" cy="378.800" rx="57" ry="68" fill="#384cb0" stroke="#2d3d9c" stroke-width="2.600" transform="rotate(-4 749 378)"/>
<ellipse cx="750" cy="380" rx="54" ry="64.500" fill="none" stroke="#5063c0" stroke-width="1.200" opacity="0.6" transform="rotate(-4 749 378)"/>
<rect x="650" y="295" width="190" height="205" filter="url(#grain)" opacity="0.06"/>
</g>
<path d="M649.500,420 L669.500,420 L669.500,459 L679.800,459 L659.500,494 L639.200,459 L649.500,459 Z" fill="#00ffff"/>
</g>
<g id="labels">
<path class="ln" d="M178,275 L285,275"/>
<path class="ln" d="M509,309 L572.500,309"/><path class="ln" style="stroke:#00e2fa" d="M572,309.300 L644,236.500"/>
<path class="ln" d="M122,565 L190,565"/>
<path class="ln" d="M122,607 L190,607"/>
<path class="ln" d="M122,644.500 L190,644.500"/>
<path class="ln" d="M324,482 L324,545"/>
<path class="ln" d="M275,622 L191,767"/>
<path class="ln" d="M328,650 L328,786"/>
<path class="ln" d="M407.600,622 L407.600,789"/>
<path class="ln" d="M665.200,686 L665.200,785"/>
<path class="ln" d="M770,681 L770,779"/>
<text class="lb" transform="translate(61.2,281.0) scale(1.017,1)">Front cover</text>
<text class="lb" transform="translate(645.2,241.0) scale(1.017,1)">Recharging LED</text>
<text class="lb" transform="translate(830.7,430.5) scale(1.017,1)">Use the tool to</text>
<text class="lb" transform="translate(830.7,456.7) scale(1.017,1)">open cover in</text>
<text class="lb" transform="translate(830.7,483.4) scale(1.017,1)">this way</text>
<text class="lb" transform="translate(265.2,473.5) scale(1.017,1)">Microphone</text>
<text class="lb" transform="translate(20.2,573.5) scale(1.017,1)">BAT LED</text>
<text class="lb" transform="translate(21.2,614.5) scale(1.017,1)">GSM LED</text>
<text class="lb" transform="translate(21.2,652.5) scale(1.017,1)">GPS LED</text>
<text class="lb" transform="translate(128.2,788.0) scale(1.017,1)">SIM slot</text>
<text class="lb" transform="translate(295.2,809.0) scale(1.017,1)">Reset</text>
<text class="lb" transform="translate(378.7,809.0) scale(1.017,1)">QR code</text>
<text class="lb" transform="translate(378.7,835.0) scale(1.017,1)">and imei</text>
<text class="lb" transform="translate(560.2,789.0) scale(1.017,1)">Magnetic</text>
<text class="lb" transform="translate(561.2,815.0) scale(1.017,1)">recharging port</text>
<text class="lb" transform="translate(756.7,801.5) scale(1.017,1)">Pet collar clip</text>
</g>
</svg>
</body></html>
